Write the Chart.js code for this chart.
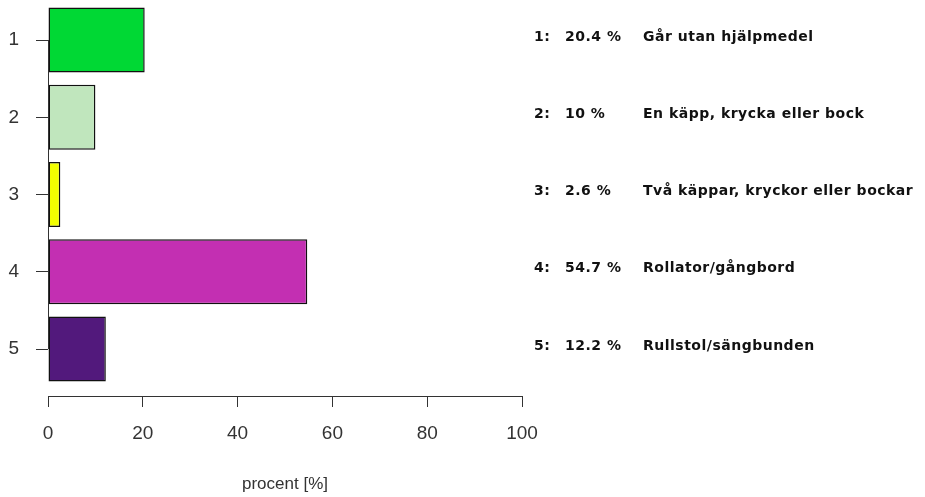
<!DOCTYPE html>
<html>
<head>
<meta charset="utf-8">
<script src="https://cdn.jsdelivr.net/npm/chart.js@4"></script>
<style>
    html, body { margin: 0; padding: 0; background: #fff; }
    #wrap { position: relative; width: 925px; height: 497px; }
</style>
</head>
<body>
<div id="wrap"><canvas id="chart"></canvas></div>
<script>

// chart data
const categories = [ '1', '2', '3', '4', '5' ];
const values = [ 20.4, 10, 2.6, 54.7, 12.2 ];
const names = [
    'Går utan hjälpmedel',
    'En käpp, krycka eller bock',
    'Två käppar, kryckor eller bockar',
    'Rollator/gångbord',
    'Rullstol/sängbunden'
];
const xTicks = [ 0, 20, 40, 60, 80, 100 ];
const barColors = [ '#00d834', '#c0e6bd', '#f2ff00', '#c32fb2', '#52197c' ];

const axisColor = '#333';
const tickFont = { family: '"Liberation Sans", Arial, sans-serif', size: 19 };

/**
 * y axis line from first to last tick, like R axis()
 */
const yAxisLine = {
    id: 'yAxisLine',
    afterDatasetsDraw( chart ) {
        let ctx = chart.ctx,
            y = chart.scales.y,
            x = chart.chartArea.left;
        ctx.save();
        ctx.strokeStyle = axisColor;
        ctx.lineWidth = 1;
        ctx.beginPath();
        ctx.moveTo( x + 0.5, y.getPixelForValue( +categories[0] ) );
        ctx.lineTo( x + 0.5, y.getPixelForValue( +categories[ categories.length - 1 ] ) );
        ctx.stroke();
        ctx.restore();
    }
};

/**
 * text legend on the right side
 */
const sideText = {
    id: 'sideText',
    afterDraw( chart ) {
        let ctx = chart.ctx,
            y = chart.scales.y;
        ctx.save();
        ctx.fillStyle = '#111';
        ctx.font = 'bold 14px "DejaVu Sans", Verdana, sans-serif';
        ctx.letterSpacing = '0.5px';
        ctx.textBaseline = 'middle';
        categories.forEach( ( c, i ) => {
            let py = y.getPixelForValue( +c ) - 3;
            ctx.fillText( c + ':', 534, py );
            ctx.fillText( values[ i ] + ' %', 565, py );
            ctx.fillText( names[ i ], 643, py );
        } );
        ctx.restore();
    }
};

new Chart( document.getElementById( 'chart' ), {
    type: 'bar',
    data: {
        labels: categories,
        datasets: [ {
            data: values,
            backgroundColor: barColors,
            borderColor: '#111',
            borderWidth: 1.5,
            borderSkipped: false,
            categoryPercentage: 1,
            barPercentage: 0.84
        } ]
    },
    options: {
        indexAxis: 'y',
        responsive: true,
        maintainAspectRatio: false,
        animation: false,
        layout: {
            padding: { top: 1, right: 403, left: 0, bottom: 0 }
        },
        plugins: {
            legend: { display: false },
            tooltip: { enabled: false }
        },
        scales: {
            x: {
                type: 'linear',
                min: 0,
                max: 100,
                afterBuildTicks: ( scale ) => {
                    scale.ticks = xTicks.map( v => ( { value: v } ) );
                },
                afterFit: ( scale ) => {
                    scale.height = 101;
                },
                border: { display: true, color: axisColor, width: 1 },
                grid: {
                    drawOnChartArea: false,
                    tickLength: 11,
                    color: axisColor
                },
                ticks: {
                    padding: 15,
                    color: axisColor,
                    font: tickFont,
                    maxRotation: 0
                },
                title: {
                    display: true,
                    text: 'procent [%]',
                    color: axisColor,
                    font: { family: '"Liberation Sans", Arial, sans-serif', size: 17 },
                    padding: { top: 0, bottom: 2 }
                }
            },
            y: {
                type: 'linear',
                reverse: true,
                offset: false,
                min: 0.495,
                max: 5.608,
                afterBuildTicks: ( scale ) => {
                    scale.ticks = categories.map( v => ( { value: +v } ) );
                },
                afterFit: ( scale ) => {
                    scale.width = 48;
                    scale.paddingTop = 0;
                    scale.paddingBottom = 0;
                },
                border: { display: false },
                grid: {
                    offset: false,
                    drawOnChartArea: false,
                    tickLength: 12,
                    color: axisColor
                },
                ticks: {
                    padding: 17,
                    color: axisColor,
                    font: tickFont
                }
            }
        }
    },
    plugins: [ yAxisLine, sideText ]
} );

</script>
</body>
</html>
